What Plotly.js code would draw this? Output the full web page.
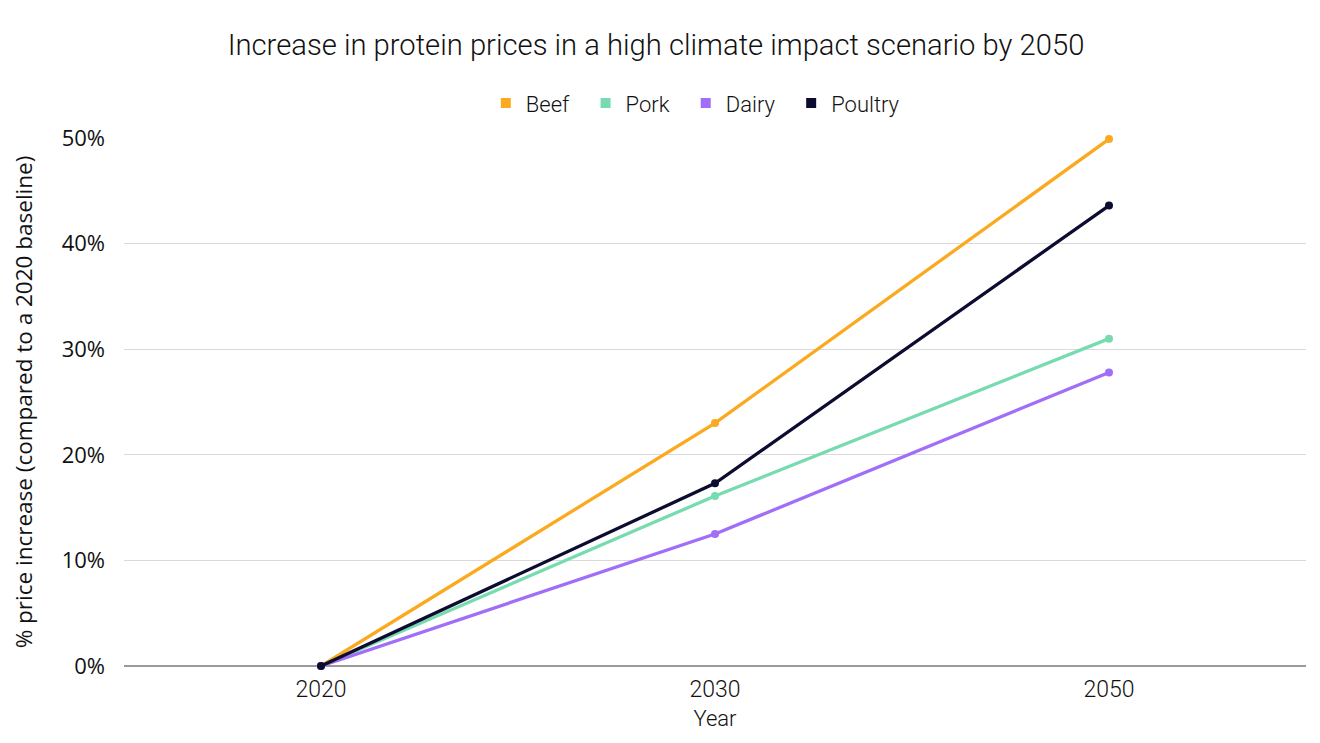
<!DOCTYPE html>
<html>
<head>
<meta charset="utf-8">
<script src="https://cdn.plot.ly/plotly-3.0.1.min.js"></script>
<style>html,body{margin:0;padding:0;background:#fff;}#chart{width:1320px;height:743px;}</style>
</head>
<body>
<div id="chart"></div>
<script>
const years = ["2020", "2030", "2050"];
const beef = [0, 23.0, 49.9];
const pork = [0, 16.1, 31.0];
const dairy = [0, 12.5, 27.8];
const poultry = [0, 17.3, 43.6];
const yTicks = [0, 10, 20, 30, 40, 50];
const yTickLabels = ["0%", "10%", "20%", "30%", "40%", "50%"];

const series = [
  {name: "Beef", y: beef, color: "#FBAA1F"},
  {name: "Pork", y: pork, color: "#77DBB0"},
  {name: "Dairy", y: dairy, color: "#A06EF8"},
  {name: "Poultry", y: poultry, color: "#0C0C30"}
];

const traces = [];
series.forEach(s => {
  traces.push({
    x: years, y: s.y, type: "scatter", mode: "lines+markers",
    name: s.name, legendgroup: s.name, showlegend: false,
    line: {color: s.color, width: 3.3},
    marker: {color: s.color, size: 8},
    cliponaxis: false,
    hoverinfo: "x+y+name"
  });
});
series.forEach(s => {
  traces.push({
    x: [null], y: [null], type: "scatter", mode: "markers",
    name: s.name + "\u2002", legendgroup: s.name, showlegend: true,
    marker: {color: s.color, size: 10, symbol: "square"}
  });
});

const txt = "#111";
const layout = {
  width: 1320, height: 743,
  paper_bgcolor: "#fff", plot_bgcolor: "#fff",
  margin: {l: 124, r: 14, t: 138, b: 77},
  title: {
    text: "Increase in protein prices in a high climate impact scenario by 2050",
    font: {family: "Roboto, sans-serif", size: 29.2, color: txt, weight: 300},
    x: 0.497, xanchor: "center", y: 0.94, yanchor: "middle", yref: "container"
  },
  showlegend: true,
  legend: {
    orientation: "h", x: 0.488, xanchor: "center", y: 1.066, yanchor: "middle",
    font: {family: "Roboto, sans-serif", size: 22, color: txt, weight: 300},
    itemwidth: 20, tracegroupgap: 0
  },
  xaxis: {
    type: "category", categoryorder: "array", categoryarray: years,
    range: [-0.5, 2.5],
    showgrid: false, showline: false, zeroline: false,
    ticks: "", ticklen: 0, ticklabelstandoff: 7,
    tickfont: {family: "Roboto, sans-serif", size: 23, color: txt, weight: 300},
    title: {text: "Year", font: {family: "Roboto, sans-serif", size: 22, color: txt, weight: 300}, standoff: 8}
  },
  yaxis: {
    range: [0, 50],
    tickvals: yTicks, ticktext: yTickLabels,
    showgrid: true, gridcolor: "#DADADA", gridwidth: 1,
    zeroline: true, zerolinecolor: "#9A9A9A", zerolinewidth: 1.3,
    showline: false, ticks: "",
    ticklabelstandoff: 18,
    tickfont: {family: "'Open Sans', sans-serif", size: 22, color: txt},
    title: {text: "% price increase (compared to a 2020 baseline)", font: {family: "'Open Sans', sans-serif", size: 22.5, color: txt}, standoff: 22}
  }
};

Plotly.newPlot("chart", traces, layout, {displayModeBar: false, staticPlot: true});
</script>
</body>
</html>
